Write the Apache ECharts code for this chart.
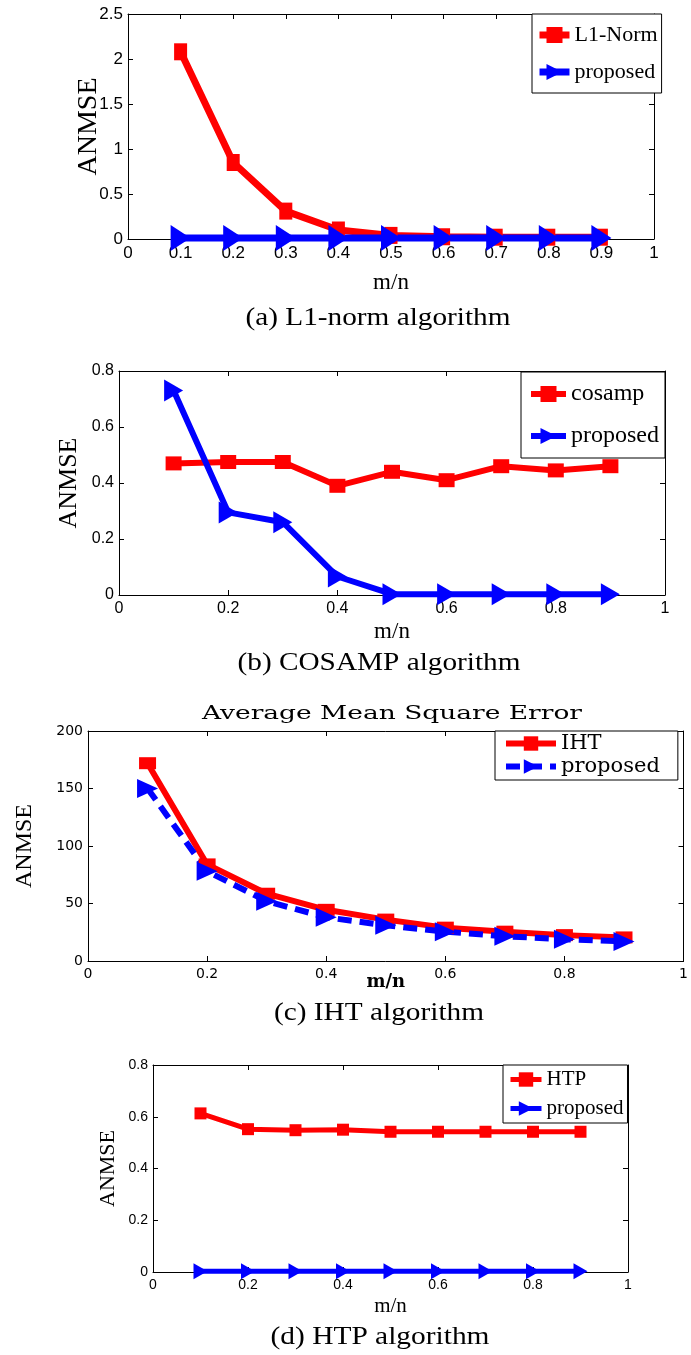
<!DOCTYPE html>
<html>
<head>
<meta charset="utf-8">
<script src="https://cdn.jsdelivr.net/npm/echarts@6/dist/echarts.min.js"></script>
<style>
  html, body { margin: 0; padding: 0; background: #fff; }
  #chart { width: 691px; height: 1355px; }
</style>
</head>
<body>
<div id="chart"></div>
<script>
// x values shared by every panel
const mn = [0.1, 0.2, 0.3, 0.4, 0.5, 0.6, 0.7, 0.8, 0.9];

// (a) L1-norm
const l1Norm = [2.08, 0.85, 0.31, 0.10, 0.04, 0.025, 0.02, 0.02, 0.02];
const l1Proposed = [0.01, 0.01, 0.01, 0.01, 0.01, 0.01, 0.01, 0.01, 0.01];
// (b) COSAMP
const cosamp = [0.47, 0.475, 0.475, 0.39, 0.44, 0.41, 0.46, 0.445, 0.46];
const cosampProposed = [0.73, 0.295, 0.26, 0.066, 0.003, 0.003, 0.003, 0.003, 0.003];
// (c) IHT
const iht = [172, 84, 58.5, 44.5, 36, 29, 25.5, 22.5, 20.5];
const ihtProposed = [150, 78, 52, 38, 31, 25.5, 21.5, 19, 17];
// (d) HTP
const htp = [0.613, 0.552, 0.548, 0.55, 0.542, 0.542, 0.542, 0.542, 0.542];
const htpProposed = [0.003, 0.003, 0.003, 0.003, 0.003, 0.003, 0.003, 0.003, 0.003];

const captions = ['(a) L1-norm algorithm', '(b) COSAMP algorithm', '(c) IHT algorithm', '(d) HTP algorithm'];

const RED = '#ff0000', BLUE = '#0000ff';
const TRI = 'path://M0,0L10,5L0,10Z';
const pts = ys => mn.map((x, i) => [x, ys[i]]);

const chart = echarts.init(document.getElementById('chart'));

// panel layout
const panels = [
  { grid: { left: 128, top: 14, width: 526, height: 225 }, xInt: 0.1, yMax: 2.5, yInt: 0.5,
    tick: { fontFamily: 'Liberation Sans', fontSize: 17 },
    yName: { gap: 25, font: { fontFamily: 'Liberation Serif', fontSize: 28 } },
    xName: { gap: 32, font: { fontFamily: 'Liberation Serif', fontSize: 23 } } },
  { grid: { left: 119, top: 371, width: 546, height: 224 }, xInt: 0.2, yMax: 0.8, yInt: 0.2,
    tick: { fontFamily: 'Liberation Sans', fontSize: 16 },
    yName: { gap: 37, font: { fontFamily: 'Liberation Serif', fontSize: 26 } },
    xName: { gap: 25, font: { fontFamily: 'Liberation Serif', fontSize: 23 } } },
  { grid: { left: 88, top: 731, width: 604, height: 230 }, xInt: 0.2, yMax: 200, yInt: 50,
    tick: { fontFamily: 'DejaVu Sans', fontSize: 14 },
    yName: { gap: 51, font: { fontFamily: 'Liberation Serif', fontSize: 24 } },
    xName: { gap: 12, font: { fontFamily: 'DejaVu Serif', fontSize: 18, fontWeight: 'bold' } } },
  { grid: { left: 153, top: 1065, width: 475, height: 207 }, xInt: 0.2, yMax: 0.8, yInt: 0.2,
    tick: { fontFamily: 'Liberation Sans', fontSize: 14 },
    yName: { gap: 34, font: { fontFamily: 'Liberation Serif', fontSize: 22 } },
    xName: { gap: 24, font: { fontFamily: 'Liberation Serif', fontSize: 21 } } }
];

const black = { color: '#000', width: 1 };
const xAxis = [], yAxis = [];
panels.forEach((p, i) => {
  const tickCfg = { show: true, inside: true, length: 5, lineStyle: black };
  xAxis.push({
    gridIndex: i, type: 'value', min: 0, max: 1, interval: p.xInt, position: 'bottom',
    axisLine: { onZero: false, lineStyle: black }, axisTick: tickCfg,
    axisLabel: Object.assign({ color: '#000', margin: 6, showMinLabel: true, showMaxLabel: true }, p.tick),
    splitLine: { show: false },
    name: 'm/n', nameLocation: 'middle', nameGap: p.xName.gap, nameMoveOverlap: false,
    nameTextStyle: Object.assign({ color: '#000' }, p.xName.font)
  });
  xAxis.push({
    gridIndex: i, type: 'value', min: 0, max: 1, interval: p.xInt, position: 'top',
    axisLine: { onZero: false, lineStyle: black }, axisTick: tickCfg,
    axisLabel: { show: false }, splitLine: { show: false }
  });
  yAxis.push({
    gridIndex: i, type: 'value', min: 0, max: p.yMax, interval: p.yInt, position: 'left',
    axisLine: { show: true, onZero: false, lineStyle: black }, axisTick: tickCfg,
    axisLabel: Object.assign({ color: '#000', margin: 5 }, p.tick),
    splitLine: { show: false },
    name: 'ANMSE', nameLocation: 'middle', nameGap: p.yName.gap, nameRotate: 90, nameMoveOverlap: false,
    nameTextStyle: Object.assign({ color: '#000' }, p.yName.font)
  });
  yAxis.push({
    gridIndex: i, type: 'value', min: 0, max: p.yMax, interval: p.yInt, position: 'right',
    axisLine: { show: true, onZero: false, lineStyle: black }, axisTick: tickCfg,
    axisLabel: { show: false }, splitLine: { show: false }
  });
});

function line(name, panel, ys, color, lw, symbol, size, dashed) {
  return {
    name, type: 'line', xAxisIndex: panel * 2, yAxisIndex: panel * 2,
    data: pts(ys), clip: false, symbol, symbolSize: size, showSymbol: true,
    itemStyle: { color }, lineStyle: { color, width: lw, type: dashed ? [14, 8] : 'solid' },
    emphasis: { disabled: true }, animation: false
  };
}

const series = [
  line('L1-Norm', 0, l1Norm, RED, 7, 'rect', [13, 17]),
  line('proposed#a', 0, l1Proposed, BLUE, 7, TRI, [20, 26]),
  line('cosamp', 1, cosamp, RED, 6, 'rect', [16, 14]),
  line('proposed#b', 1, cosampProposed, BLUE, 6, TRI, [19, 22]),
  line('IHT', 2, iht, RED, 6, 'rect', [17, 12]),
  line('proposed#c', 2, ihtProposed, BLUE, 6, TRI, [21, 19], true),
  line('HTP', 3, htp, RED, 5, 'rect', [12, 12]),
  line('proposed#d', 3, htpProposed, BLUE, 5, TRI, [14, 16])
];

function legend(names, left, top, font, opts) {
  return Object.assign({
    data: names, orient: 'vertical', left, top, backgroundColor: '#fff',
    borderColor: '#000', borderWidth: 1, borderRadius: 0, selectedMode: false,
    itemGap: 15, itemWidth: 30, itemHeight: 18,
    textStyle: Object.assign({ color: '#000', padding: [0, 0, 0, 0] }, font),
    formatter: n => n.replace(/#\w$/, '')
  }, opts);
}

const legends = [
  legend(['L1-Norm', 'proposed#a'], 532, 14, { fontFamily: 'Liberation Serif', fontSize: 22 },
    { padding: [10, 4, 10, 4], itemGap: 15, itemWidth: 30, itemHeight: 20, lineStyle: { width: 7 } }),
  legend(['cosamp', 'proposed#b'], 521, 372, { fontFamily: 'Liberation Serif', fontSize: 24 },
    { padding: [10, 6, 10, 7], itemGap: 18, itemWidth: 35, itemHeight: 20, lineStyle: { width: 6 } }),
  legend(['IHT', 'proposed#c'], 495, 731, { fontFamily: 'DejaVu Serif', fontSize: 21, lineHeight: 21 },
    { padding: [2, 18, 3, 8], itemGap: 2, itemWidth: 50, itemHeight: 18, lineStyle: { width: 6 } }),
  legend(['HTP', 'proposed#d'], 503, 1065, { fontFamily: 'Liberation Serif', fontSize: 21 },
    { padding: [4, 4, 4, 5], itemGap: 8, itemWidth: 31, itemHeight: 18, lineStyle: { width: 5 } })
];

// stretched text helper (captions and title are horizontally stretched in the figure)
const mctx = document.createElement('canvas').getContext('2d');
function stretched(text, cx, cy, font, targetW) {
  mctx.font = font;
  const w = mctx.measureText(text).width;
  return {
    type: 'text', x: cx, y: cy, scaleX: targetW / w, z: 10,
    style: { text, font, fill: '#000', align: 'center', verticalAlign: 'middle' }
  };
}

const graphic = [
  stretched('Average Mean Square Error', 392, 714, '18px "DejaVu Serif"', 380),
  stretched(captions[0], 378, 318, '26px "Liberation Serif"', 265),
  stretched(captions[1], 379, 663, '26px "Liberation Serif"', 283),
  stretched(captions[2], 379, 1013, '26px "Liberation Serif"', 210),
  stretched(captions[3], 380, 1337, '26px "Liberation Serif"', 219)
];

chart.setOption({
  animation: false,
  backgroundColor: '#fff',
  grid: panels.map(p => Object.assign({ containLabel: false }, p.grid)),
  xAxis, yAxis, series, legend: legends, graphic
});
</script>
</body>
</html>
